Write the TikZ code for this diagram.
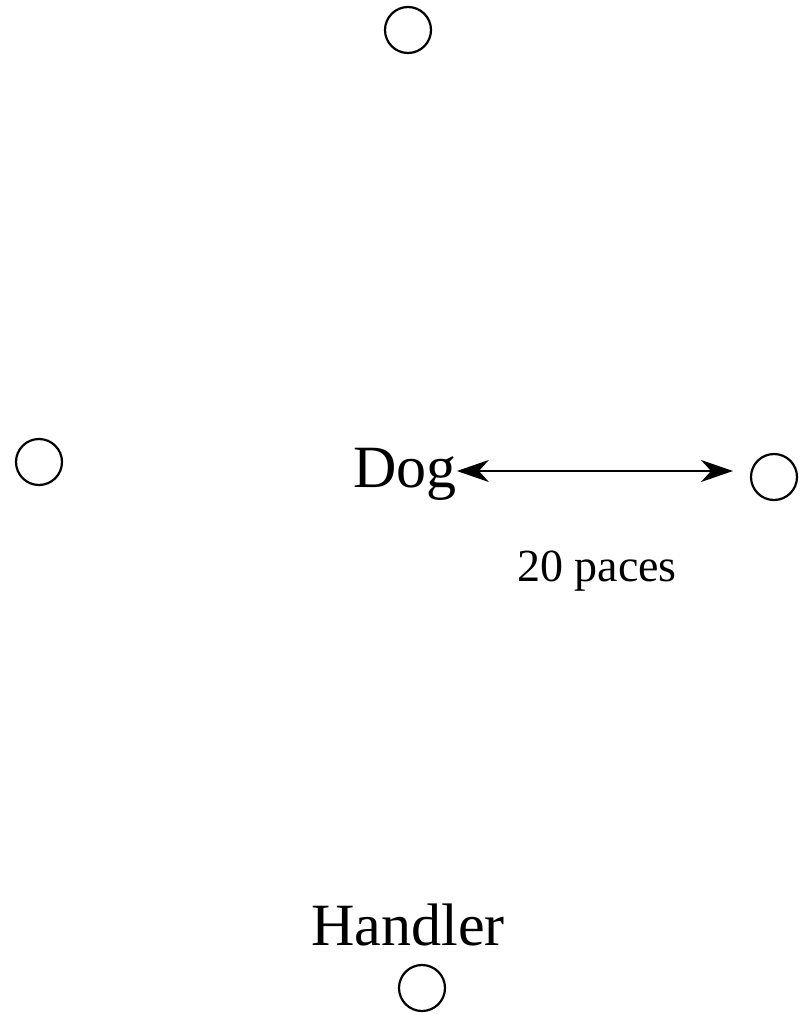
\documentclass[tikz,border=0pt]{standalone}
\usepackage{fontspec}
\setmainfont{Liberation Serif}
\usetikzlibrary{arrows.meta}

\tikzset{
  cone/.style={draw, circle, line width=2.2pt, minimum size=46pt, inner sep=0pt},
  biglabel/.style={inner sep=0pt, font=\fontsize{60}{66}\selectfont},
  smalllabel/.style={inner sep=0pt, font=\fontsize{46}{52}\selectfont},
  twoway/.style={line width=1.6pt, {Stealth[length=32pt,width=22pt,inset=10pt]}-{Stealth[length=32pt,width=22pt,inset=10pt]}}
}

\begin{document}
\begin{tikzpicture}[x=1pt, y=-1pt]
      \useasboundingbox (0,0) rectangle (807,1014);

      % the cones
      \node[cone] (top) at (408, 30) {};
      \node[cone] (left) at (39, 462) {};
      \node[cone] (right) at (774, 477) {};
      \node[cone] (bottom) at (422, 988) {};

      % dog and handler
      \node[biglabel, anchor=base] (dog) at (405, 487) {Dog};
      \node[biglabel, anchor=base] (handler) at (408, 945) {Handler};
      \node[smalllabel, anchor=base] (paces) at (597, 581) {20 paces};

      \coordinate (tip) at (733, 471);
      \draw[twoway] ([yshift=16pt]dog.base east) -- (tip);

\end{tikzpicture}
\end{document}
